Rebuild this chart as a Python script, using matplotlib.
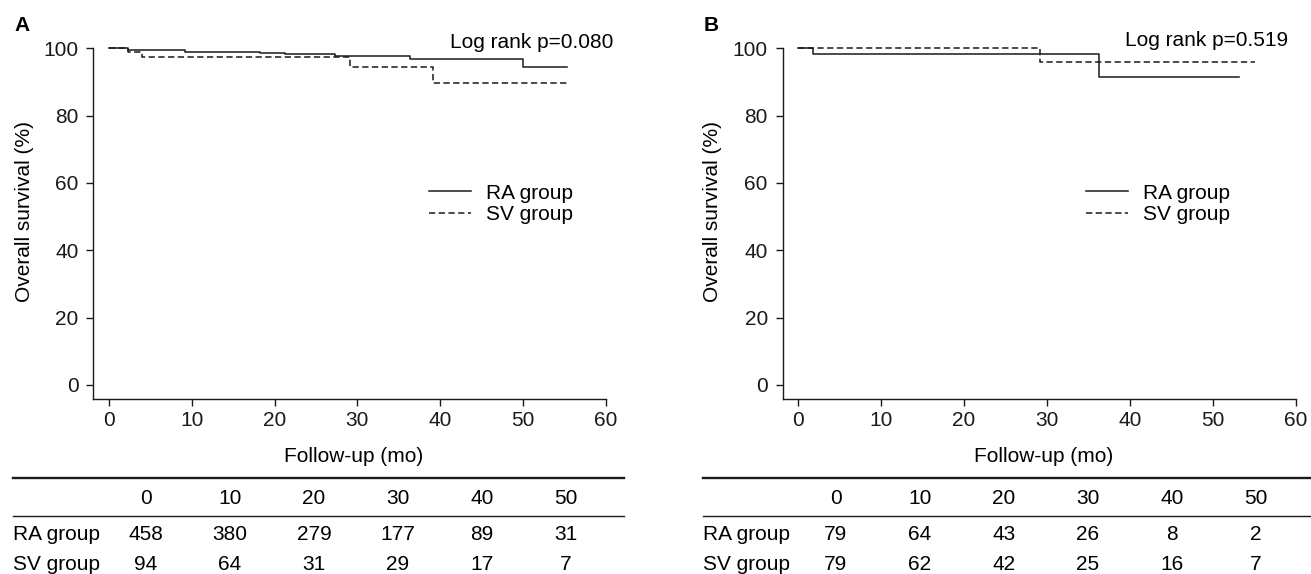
import matplotlib
matplotlib.use('Agg')
import matplotlib.pyplot as plt
from matplotlib.lines import Line2D

plt.rcParams['font.family'] = ['Liberation Sans', 'DejaVu Sans']
plt.rcParams['lines.scale_dashes'] = False

# Kaplan-Meier steps (months, % surviving)
a_ra_t = [0, 2.3, 9.2, 18.2, 21.2, 27.3, 36.3, 50.0, 55.3]
a_ra_s = [100, 99.5, 99.0, 98.7, 98.2, 97.7, 96.7, 94.5, 94.5]
a_sv_t = [0, 2.3, 4.0, 29.1, 39.1, 55.3]
a_sv_s = [100, 99.0, 97.5, 94.5, 89.6, 89.6]

b_ra_t = [0, 1.8, 36.3, 53.2]
b_ra_s = [100, 98.2, 91.6, 91.6]
b_sv_t = [0, 29.2, 55.1]
b_sv_s = [100, 96.0, 96.0]

pvals = ['Log rank p=0.080', 'Log rank p=0.519']
panel_letters = ['A', 'B']

# numbers at risk
risk_times = [0, 10, 20, 30, 40, 50]
a_ra_risk = [458, 380, 279, 177, 89, 31]
a_sv_risk = [94, 64, 31, 29, 17, 7]
b_ra_risk = [79, 64, 43, 26, 8, 2]
b_sv_risk = [79, 62, 42, 25, 16, 7]

W, H = 1311, 574
FS = 15


def fx(x):
    return x / W


def fy(y):
    return 1 - y / H


fig = plt.figure(figsize=(W / 100, H / 100), dpi=100)

panels = [
    dict(left=93.3, right=605.8, x0=109.0, curves=(a_ra_t, a_ra_s, a_sv_t, a_sv_s),
         risk=(a_ra_risk, a_sv_risk), tab_left=13, tab_right=624, leg_x=429,
         p_x=613, p_y=42, let_x=14, ylab_x=24),
    dict(left=782.7, right=1295.7, x0=798.3, curves=(b_ra_t, b_ra_s, b_sv_t, b_sv_s),
         risk=(b_ra_risk, b_sv_risk), tab_left=703, tab_right=1311, leg_x=1086,
         p_x=1288, p_y=40, let_x=704, ylab_x=713),
]

top, bottom = 48.3, 399.3
for i, p in enumerate(panels):
    ax = fig.add_axes([fx(p['left']), fy(bottom), (p['right'] - p['left']) / W, (bottom - top) / H])
    px_per = (p['right'] - p['x0']) / 60
    ax.set_xlim(-(p['x0'] - p['left']) / px_per, 60)
    ax.set_ylim(-4.25, 100)

    rt, rs, st, ss = p['curves']
    ax.step(rt, rs, where='post', color='#1a1a1a', lw=1.1, clip_on=False, label='RA group')
    ax.step(st, ss, where='post', color='#1a1a1a', lw=1.1, clip_on=False,
            dashes=(4.5, 2.5), label='SV group')

    for s in ['top', 'right']:
        ax.spines[s].set_visible(False)
    for s in ['left', 'bottom']:
        ax.spines[s].set_linewidth(1.0)
        ax.spines[s].set_color('#1a1a1a')
    ax.set_xticks([0, 10, 20, 30, 40, 50, 60])
    ax.set_yticks([0, 20, 40, 60, 80, 100])
    ax.tick_params(direction='out', length=5.2, width=1.0, labelsize=FS, colors='#1a1a1a')
    ax.tick_params(axis='x', pad=3.5)
    ax.tick_params(axis='y', pad=5.5)

    ax.set_ylabel('Overall survival (%)', fontsize=FS)
    ax.yaxis.set_label_coords((p['ylab_x'] - p['left']) / (p['right'] - p['left']),
                              (bottom - 212) / (bottom - top))
    ax.yaxis.label.set_va('center')
    ax.set_xlabel('Follow-up (mo)', fontsize=FS)
    ax.xaxis.set_label_coords((354 - 93.3) / 512.5, (bottom - 457) / (bottom - top))
    ax.xaxis.label.set_va('center')

    ax.legend(loc='center left', frameon=False, fontsize=FS, handlelength=2.0,
              handletextpad=0.75, labelspacing=0.12, borderpad=0, borderaxespad=0,
              bbox_to_anchor=((p['leg_x'] - p['left']) / (p['right'] - p['left']),
                              (bottom - 204) / (bottom - top)))

    fig.text(fx(p['p_x']), fy(p['p_y']), pvals[i], fontsize=FS, ha='right', va='center')
    fig.text(fx(p['let_x']), fy(25.5), panel_letters[i], fontsize=FS, fontweight='bold',
             ha='left', va='center')

    # number-at-risk table
    tl, tr = p['tab_left'], p['tab_right']
    fig.add_artist(Line2D([fx(tl), fx(tr)], [fy(478.3)] * 2, transform=fig.transFigure,
                          lw=1.7, color='#1a1a1a'))
    fig.add_artist(Line2D([fx(tl), fx(tr)], [fy(516)] * 2, transform=fig.transFigure,
                          lw=1.0, color='#1a1a1a'))
    col_x = [tl + 133 + 84 * k for k in range(len(risk_times))]
    for cx, t in zip(col_x, risk_times):
        fig.text(fx(cx), fy(504.5), str(t), fontsize=FS, ha='center', va='baseline')
    for row_y, name, vals in [(539.5, 'RA group', p['risk'][0]), (570, 'SV group', p['risk'][1])]:
        fig.text(fx(tl), fy(row_y), name, fontsize=FS, ha='left', va='baseline')
        for cx, v in zip(col_x, vals):
            fig.text(fx(cx), fy(row_y), str(v), fontsize=FS, ha='center', va='baseline')

fig.savefig('out.png', dpi=100)
